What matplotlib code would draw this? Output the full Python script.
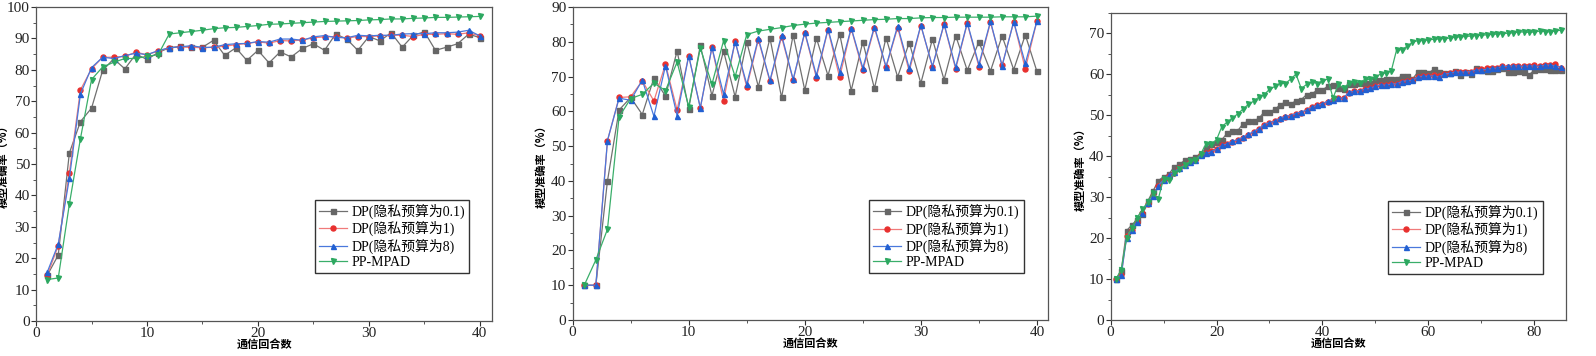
import matplotlib
matplotlib.use("Agg")
import matplotlib.pyplot as plt
from matplotlib.ticker import MultipleLocator

plt.rcParams["font.family"] = ["Liberation Serif", "Noto Sans CJK SC"]

labels = ["DP(隐私预算为0.1)", "DP(隐私预算为1)", "DP(隐私预算为8)", "PP-MPAD"]

#panel 1
p1_rounds = list(range(1, 41))
p1_eps01 = [14.5, 21, 53.5, 63.5, 67.8, 79.8, 83.5, 80.3, 85, 83.3,
            85.5, 87, 87.5, 87.2, 87.2, 89.4, 84.6, 87, 83, 86.2,
            82.2, 85.7, 84.1, 86.8, 88.3, 86.2, 91.4, 89.8, 86.2, 90.6,
            89.2, 91.8, 87.2, 91, 92.1, 86.2, 87.2, 88.3, 91.4, 90.2]
p1_eps1 = [14.5, 24, 47.2, 73.6, 80.3, 84, 84, 84.3, 85.6, 84.8,
           86, 87, 87.3, 87.2, 87, 87.2, 87.5, 88, 88.4, 88.9,
           88.5, 89.3, 89.2, 89.5, 90.2, 90.5, 90.6, 90.1, 90.6, 90.6,
           90.8, 91, 91, 90.6, 91.3, 91.3, 91.5, 91.3, 91.8, 90.8]
p1_eps8 = [15.5, 24.5, 45.4, 72.3, 80.7, 84, 83.6, 84.5, 85.3, 84.8,
           86.1, 87, 87.3, 87.7, 87.1, 87.2, 88, 88.3, 88.4, 89,
           88.8, 89.8, 89.8, 89.4, 90.5, 90.9, 90.3, 90.2, 91, 90.8,
           91, 91, 91.4, 91.5, 91.5, 91.8, 91.8, 92, 92.6, 90.8]
p1_ppmpad = [13.2, 13.7, 37.2, 58.1, 76.9, 80.9, 82.4, 83.6, 83.6, 84.3,
             84.8, 91.4, 91.8, 92.2, 92.6, 93.1, 93.4, 93.5, 93.8, 94.1,
             94.5, 94.6, 94.8, 95, 95.2, 95.4, 95.5, 95.6, 95.7, 95.9,
             96, 96.2, 96.2, 96.4, 96.5, 96.7, 96.7, 96.8, 96.9, 97]

#panel 2
p2_rounds = list(range(1, 41))
p2_eps01 = [10, 10, 40, 60.4, 64, 59.1, 69.6, 64.4, 77.4, 60.8,
            79, 64.5, 77.4, 64.2, 80, 67.1, 81.1, 64, 82, 66.1,
            81.1, 70.3, 82.4, 66, 80, 66.6, 81.2, 69.9, 79.8, 68.1,
            80.8, 69.1, 81.8, 71.8, 80, 71.6, 81.7, 72, 82, 71.5]
p2_eps1 = [10, 10, 51.6, 64, 64.2, 68.8, 63, 73.6, 60.4, 76,
           61, 78.4, 63, 80.2, 67, 80.6, 68.6, 81.4, 69, 82.6,
           69.7, 83.5, 69.8, 83.8, 71.8, 84, 72.7, 84.1, 71.5, 84.7,
           72.9, 85, 72.2, 85.3, 72.9, 85.6, 73.2, 85.8, 72.2, 86]
p2_eps8 = [10, 10, 51.6, 63.8, 63.2, 69, 58.6, 73.1, 58.8, 76,
           61, 78.4, 65, 80.1, 67.8, 81, 68.9, 82, 69.2, 82.8,
           70.4, 83.7, 71.4, 84, 72.5, 84.4, 72.9, 84.6, 72.4, 84.8,
           72.9, 85.2, 72.7, 85.5, 73.5, 85.9, 73.1, 85.8, 73.8, 86]
p2_ppmpad = [10, 17.3, 26.1, 58.4, 63.7, 64.9, 68.1, 66, 74.2, 61.4,
             78.2, 67.8, 80.3, 70, 82.1, 83.1, 83.6, 84.1, 84.7, 85.1,
             85.4, 85.6, 85.8, 86, 86.2, 86.4, 86.5, 86.7, 86.7, 86.9,
             87, 87, 87.1, 87.1, 87.1, 87.1, 87.2, 87.2, 87.2, 87.4]

#panel 3
p3_rounds = list(range(1, 86))
p3_eps01 = [10, 12, 21.8, 23.2, 24.5, 25.8, 29, 31.5, 34, 35,
            35.6, 37.4, 38, 39, 39.2, 39.8, 40.6, 41.9, 43, 43.4,
            44, 45.6, 46.2, 46.2, 47.9, 48.5, 48.6, 49.2, 50.8, 50.8,
            51.4, 52.5, 53.2, 52.7, 53.5, 53.8, 55, 55.2, 56.1, 56.1,
            57.1, 57.3, 56.6, 56.3, 57.5, 57.5, 57.8, 57.8, 57.9, 58.5,
            58.6, 58.8, 58.9, 58.9, 59.5, 59.6, 58.8, 60.5, 60.5, 60.2,
            61.2, 60.5, 60.2, 60.2, 60.8, 59.8, 60.5, 60, 61.4, 61,
            60.7, 60.8, 61.2, 61.5, 60.5, 60.6, 60.7, 60.6, 59.8, 61,
            61.2, 61.3, 61, 61, 61]
p3_eps1 = [10, 11, 20.5, 22, 24, 26, 28.2, 30.3, 32.8, 34.2,
           35.2, 36, 37, 37.8, 38.5, 39, 40.2, 40.8, 41.2, 41.8,
           42.6, 43, 43.5, 43.9, 44.4, 45.2, 45.8, 46.5, 47.6, 48.2,
           48.5, 49.1, 49.6, 49.8, 50.3, 50.6, 51.2, 51.9, 52.4, 52.8,
           53.3, 53.6, 54.1, 54.2, 55.5, 55.8, 56, 56.3, 56.6, 57,
           57.4, 57.3, 57.6, 57.6, 58.2, 58.4, 58.5, 59.3, 59.5, 59.6,
           59.8, 59.6, 60, 60.2, 60.6, 60.6, 60.5, 60.6, 61, 61.2,
           61.4, 61.6, 61.6, 61.9, 61.8, 62, 62, 61.9, 62, 62.2,
           62, 62.3, 62.3, 62.4, 61.6]
p3_eps8 = [10, 11, 20, 22, 24, 26.2, 28.5, 30.2, 32.8, 34.2,
           35.3, 36.2, 37, 37.8, 38.5, 39, 40.2, 40.7, 41.1, 41.7,
           42.6, 43, 43.6, 44, 44.6, 45.3, 46, 46.7, 47.7, 48.2,
           48.5, 49.2, 49.7, 49.9, 50.4, 50.8, 51.2, 51.9, 52.4, 52.8,
           53.4, 53.8, 54.1, 54.2, 55.6, 55.8, 56, 56.3, 56.6, 57,
           57.4, 57.3, 57.6, 57.6, 58.2, 58.4, 58.5, 59.3, 59.5, 59.5,
           59.6, 59.3, 60, 60.2, 60.5, 60.5, 60.5, 60.6, 61, 61,
           61.2, 61.4, 61.5, 61.9, 61.9, 62, 62, 61.9, 62, 62,
           61.9, 62.2, 62.2, 62, 61.7]
p3_ppmpad = [10, 12.3, 20, 22.5, 25, 27, 28.8, 31, 29.6, 34.5,
             34.2, 35.8, 36.8, 37.8, 38.8, 39, 40.5, 43, 43, 44,
             47.2, 48.3, 49.3, 50.3, 51.5, 52.6, 53.4, 54.4, 55, 56.3,
             57, 57.8, 57.7, 58.8, 60, 56.5, 57.5, 58.2, 57.7, 58.4,
             58.8, 54.2, 57.5, 56.6, 57.8, 58.2, 57.9, 58.7, 58.7, 59.4,
             60, 60.4, 60.8, 65.9, 66, 66.8, 67.8, 68.2, 68.2, 68.4,
             68.5, 68.6, 68.7, 68.8, 69, 69.1, 69.2, 69.3, 69.4, 69.5,
             69.6, 69.7, 69.8, 69.9, 70, 70.1, 70.3, 70.3, 70.2, 70.3,
             70.5, 70.4, 70.3, 70.6, 70.7]

styles = [
    dict(color="#707070", marker="s", mfc="#666666", mec="#666666"),
    dict(color="#f07a7a", marker="o", mfc="#e8302f", mec="#e8302f"),
    dict(color="#4a78dc", marker="^", mfc="#2260d2", mec="#2260d2"),
    dict(color="#3aae6a", marker="v", mfc="#2ca860", mec="#2ca860"),
]

panels = [
    dict(pos=[0.0226, 0.0983, 0.2857, 0.882], x=p1_rounds,
         ys=[p1_eps01, p1_eps1, p1_eps8, p1_ppmpad],
         xlim=(0, 41.1), ylim=(0, 100), xmaj=10, xmin=5, ymaj=10, ymin=5,
         leg=(0.95, 0.153), ylab_x=-0.057),
    dict(pos=[0.3588, 0.1011, 0.2978, 0.879], x=p2_rounds,
         ys=[p2_eps01, p2_eps1, p2_eps8, p2_ppmpad],
         xlim=(0, 40.95), ylim=(0, 90), xmaj=10, xmin=5, ymaj=10, ymin=5,
         leg=(0.949, 0.150), ylab_x=-0.052),
    dict(pos=[0.6959, 0.1011, 0.2853, 0.8632], x=p3_rounds,
         ys=[p3_eps01, p3_eps1, p3_eps8, p3_ppmpad],
         xlim=(0, 86), ylim=(0, 75), xmaj=20, xmin=10, ymaj=10, ymin=5,
         leg=(0.949, 0.150), ylab_x=-0.052),
]

fig = plt.figure(figsize=(15.96, 3.56), dpi=100)

for p in panels:
    ax = fig.add_axes(p["pos"])
    for ys, st, lab in zip(p["ys"], styles, labels):
        ax.plot(p["x"], ys, lw=0.9, ms=3.6, label=lab, **st)
    ax.set_xlim(*p["xlim"])
    ax.set_ylim(*p["ylim"])
    ax.xaxis.set_major_locator(MultipleLocator(p["xmaj"]))
    ax.xaxis.set_minor_locator(MultipleLocator(p["xmin"]))
    ax.yaxis.set_major_locator(MultipleLocator(p["ymaj"]))
    ax.yaxis.set_minor_locator(MultipleLocator(p["ymin"]))
    ax.tick_params(which="major", direction="out", length=3.5, width=0.8,
                   labelsize=11, colors="#333333", labelcolor="#222222",
                   pad=1)
    ax.tick_params(which="minor", direction="out", length=2.2, width=0.7,
                   colors="#555555")
    for s in ax.spines.values():
        s.set_color("#555555")
        s.set_linewidth(0.9)
    ax.set_xlabel("通信回合数", fontsize=8, fontweight="bold",
                  family=["Noto Sans CJK SC"], labelpad=-1)
    ax.set_ylabel("模型准确率（%）", fontsize=8, fontweight="bold",
                  family=["Noto Sans CJK SC"])
    ax.yaxis.set_label_coords(p["ylab_x"], 0.5)
    leg = ax.legend(loc="lower right", bbox_to_anchor=p["leg"],
                    fontsize=10, fancybox=False, framealpha=1,
                    edgecolor="#333333", handlelength=2.0,
                    borderpad=0.3, labelspacing=0.15, handletextpad=0.35,
                    borderaxespad=0)
    leg.get_frame().set_linewidth(1.0)

fig.savefig("out.png", dpi=100)
